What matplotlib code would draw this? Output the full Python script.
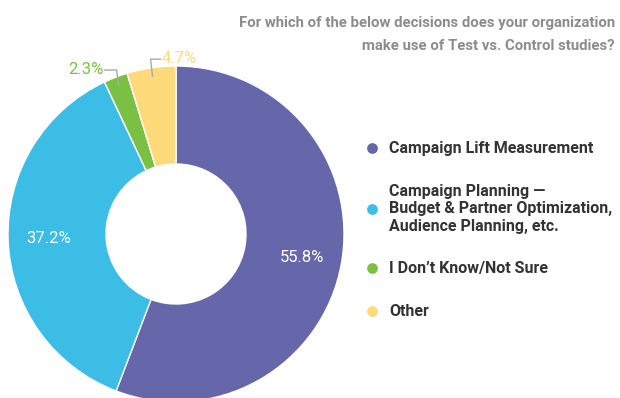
import numpy as np
import matplotlib.pyplot as plt

plt.rcParams['font.family'] = ['Roboto', 'DejaVu Sans']

categories = ['Campaign Lift Measurement',
              'Campaign Planning —\nBudget & Partner Optimization,\nAudience Planning, etc.',
              'I Don’t Know/Not Sure',
              'Other']
values = [55.8, 37.2, 2.3, 4.7]
colors = ['#6667ab', '#3bbde6', '#7ac143', '#ffda7a']
label_colors = ['white', 'white', '#7ac143', '#ffda7a']
inside = [True, True, False, False]

fig = plt.figure(figsize=(6.2, 3.98), dpi=100)
ax = fig.add_axes([0, 0, 1, 1])

cx, cy, R = 176, 164, 168
wedges, _ = ax.pie(values, colors=colors, startangle=90, counterclock=False,
                   center=(cx, cy), radius=R, frame=True,
                   wedgeprops=dict(width=R - 70, edgecolor='white', linewidth=1))
ax.set_xlim(0, 620)
ax.set_ylim(0, 398)
ax.set_aspect('equal')
ax.axis('off')

for w, v, lc, ins in zip(wedges, values, label_colors, inside):
    ang = np.deg2rad((w.theta1 + w.theta2) / 2)
    if ins:
        r = 0.76 * R
        ax.text(cx + r * np.cos(ang), cy + r * np.sin(ang), f'{v}%',
                color=lc, fontsize=12, ha='center', va='center')
    else:
        px, py = cx + 0.95 * R * np.cos(ang), cy + 0.95 * R * np.sin(ang)
        left = np.cos(ang) < -0.25
        ky = py + (15 if left else 17)
        kx = px + 2 * np.sign(np.cos(ang))
        ex = kx - 12 if left else kx + 10
        ax.plot([px, kx, ex], [py, ky, ky], color='#aaaaaa', lw=1)
        ax.text(ex - 1 if left else ex + 1, ky + 1, f'{v}%', color=lc, fontsize=12,
                ha='right' if left else 'left', va='center')

fig.text(615 / 620, 1 - 34.5 / 398,
         'For which of the below decisions does your organization\nmake use of Test vs. Control studies?',
         ha='right', va='center', fontsize=10.7, fontweight='bold', color='#8c8c8c',
         linespacing=1.75)

legend_y = [148, 209, 268, 311]
for c, lab, y in zip(colors, categories, legend_y):
    ax.scatter(372, 398 - y, s=45, color=c, zorder=5)
    ax.text(389, 398 - y, lab, ha='left', va='center', fontsize=11.5,
            fontweight='bold', color='#333333', linespacing=1.2)

fig.savefig('out.png', dpi=100)
